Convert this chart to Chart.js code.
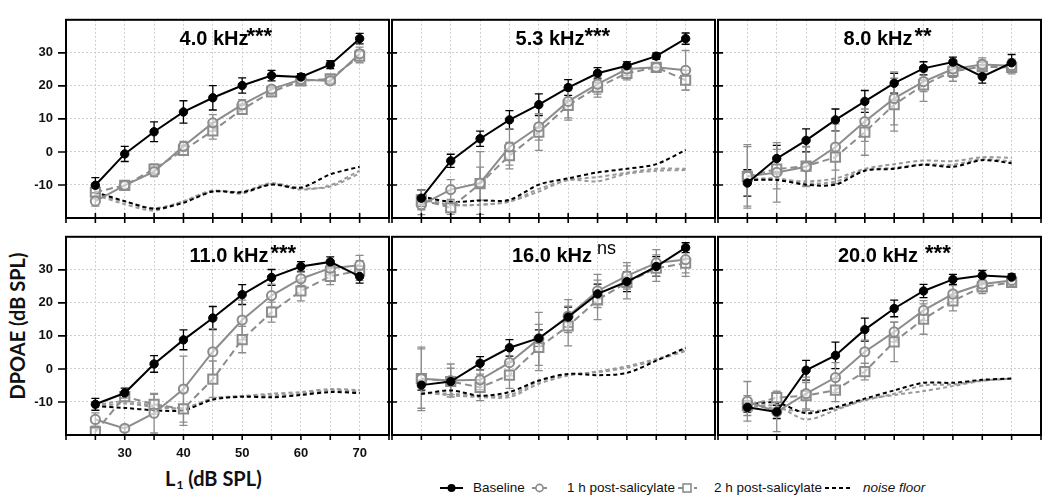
<!DOCTYPE html>
<html>
<head>
<meta charset="utf-8">
<script src="https://cdn.jsdelivr.net/npm/chart.js@4.4.1/dist/chart.umd.min.js"></script>
<style>
  body { margin: 0; background: #fff; width: 1050px; height: 500px; position: relative; overflow: hidden;
         font-family: 'Liberation Sans', Arial, sans-serif; }
  canvas { position: absolute; }
  .ytitle { position: absolute; left: -82px; top: 313px; width: 200px; height: 26px; line-height: 26px;
            text-align: center; transform: rotate(-90deg); font: bold 20px Lato, sans-serif; color: #111; }
  .xtitle { position: absolute; left: 165px; top: 466px; font: bold 20px Lato, sans-serif; color: #111; white-space: nowrap; }
  .xtitle sub { font-size: 12px; vertical-align: -3px; margin-left: 1px; }
  .leg { position: absolute; top: 479px; font-size: 13.5px; color: #111; white-space: nowrap; line-height: 18px; }
  .leg svg { position: absolute; top: 0; }
</style>
</head>
<body>
<div class="ytitle">DPOAE (dB SPL)</div>
<div class="xtitle">L<sub>1</sub> (dB SPL)</div>
<div id="legend"></div>

<script>
// stimulus levels L1 (dB SPL)
const levels = [25, 30, 35, 40, 45, 50, 55, 60, 65, 70];

const panelNames = ['4.0 kHz', '5.3 kHz', '8.0 kHz', '11.0 kHz', '16.0 kHz', '20.0 kHz'];
const significance = ['***', '***', '**', '***', 'ns', '***'];
const yTicks = [-10, 0, 10, 20, 30];
const xTickLabels = [30, 40, 50, 60, 70];

// one row per panel, in the order of panelNames
const baselineMean = [
  [-10.1, -0.6, 6.1, 12.1, 16.4, 20.1, 23.1, 22.7, 26.4, 34.3],
  [-14.0, -2.7, 4.0, 9.7, 14.3, 19.5, 23.8, 26.1, 29.0, 34.3],
  [-9.4, -2.0, 3.5, 9.7, 15.3, 20.8, 25.3, 27.2, 22.8, 27.0],
  [-10.7, -7.3, 1.5, 8.8, 15.4, 22.5, 27.7, 31.0, 32.4, 28.0],
  [-4.9, -3.8, 1.7, 6.4, 9.3, 15.7, 22.7, 26.4, 31.0, 36.7],
  [-11.6, -13.0, -0.4, 4.1, 11.9, 18.3, 23.6, 27.1, 28.3, 27.8]
];
const baselineErr = [
  [2.3, 2.3, 3, 3.4, 3.7, 2.3, 1.6, 1, 1.2, 1.6],
  [2.5, 2, 2.3, 2.8, 3.3, 2.4, 1.7, 1.2, 1, 1.7],
  [4, 4, 3.5, 3.3, 3.3, 3, 2, 1.5, 2, 2.5],
  [1.8, 1.5, 2.5, 3, 3.5, 3, 2.4, 1.5, 1.5, 2],
  [1.5, 1.5, 2, 2.5, 2.5, 3, 3, 3, 3, 1.5],
  [1.5, 2, 3, 4, 3.5, 2.5, 2, 1.5, 1.5, 1]
];
const post1hMean = [
  [-14.9, -10.1, -6.0, 1.7, 8.8, 14.3, 19.0, 21.9, 21.5, 29.7],
  [-16.0, -11.4, -9.4, 1.5, 7.6, 15.3, 20.5, 25.1, 25.6, 24.7],
  [-7.4, -6.2, -4.5, 1.5, 9.2, 16.2, 21.3, 25.1, 26.5, 26.1],
  [-15.3, -18.0, -13.4, -6.1, 5.2, 14.8, 22.2, 27.3, 30.5, 31.4],
  [-3.0, -3.5, -3.3, 1.9, 9.1, 16.0, 23.6, 28.2, 32.1, 33.1],
  [-9.8, -13.0, -7.5, -2.6, 5.2, 11.2, 17.7, 22.7, 25.7, 26.8]
];
const post1hErr = [
  [1.5, 1, 1.5, 1.5, 2.5, 1.5, 1, 1, 1, 2],
  [3, 3, 9.5, 5.5, 4, 5, 3, 2, 1, 6],
  [9.6, 9, 6, 7, 6, 8, 3, 2.5, 2, 2],
  [2, 1, 6, 10, 7, 6, 3.5, 2, 2, 3],
  [9.6, 5, 3, 4, 8, 5, 5, 4, 4, 4],
  [6, 6, 5, 4.5, 3.5, 3, 3, 2.5, 2, 1]
];
const post2hMean = [
  [-12.2, -10.1, -5.2, 0.5, 6.4, 12.9, 18.2, 21.5, 22.1, 29.0],
  [-14.5, -16.9, -9.6, -1.1, 6.0, 14.1, 19.6, 23.8, 25.6, 21.7],
  [-7.4, -5.2, -4.3, -1.6, 6.0, 14.3, 20.3, 24.4, 25.8, 25.6],
  [-19.0, -8.4, -10.7, -12.1, -3.1, 8.9, 17.2, 23.6, 28.0, 29.8],
  [-2.9, -3.8, -5.6, -1.9, 6.5, 13.0, 20.9, 26.2, 30.5, 32.0],
  [-11.1, -8.7, -8.1, -6.4, -0.8, 8.2, 15.1, 20.6, 24.8, 26.2]
];
const post2hErr = [
  [2, 1, 1.5, 1.5, 2.5, 1.5, 1, 1, 1, 2],
  [3, 2, 5, 4, 5.5, 4.5, 3, 2, 1, 3],
  [9, 6, 6, 8, 7, 8, 5, 3, 2, 2],
  [1, 1.5, 3, 5, 5.5, 4, 3, 3, 2.5, 3],
  [9, 4, 4, 4, 7, 6, 6, 5, 4, 4],
  [3, 2, 4, 3.5, 2.5, 6, 4.6, 3, 2, 1]
];
const noiseBaseline = [
  [-12.2, -14.9, -17.2, -15.4, -12.0, -12.2, -9.9, -10.8, -6.8, -4.5],
  [-13.5, -15.1, -14.7, -14.5, -9.9, -8.0, -6.2, -5.1, -3.7, 0.6],
  [-8.5, -8.5, -9.9, -9.9, -5.7, -5.1, -3.9, -4.5, -2.5, -3.4],
  [-11.3, -11.8, -12.5, -12.5, -9.3, -8.4, -8.6, -7.9, -7.0, -7.3],
  [-7.6, -6.5, -8.1, -7.0, -3.5, -1.5, -1.9, -1.2, 2.5, 6.4],
  [-10.7, -10.2, -13.4, -11.6, -9.0, -6.5, -4.2, -4.2, -3.3, -2.9]
];
const noise1h = [
  [-13.0, -15.8, -17.7, -14.9, -11.7, -12.6, -9.7, -11.4, -10.1, -5.7],
  [-14.0, -16.0, -16.0, -15.0, -12.0, -8.5, -8.9, -6.6, -5.7, -5.5],
  [-8.5, -8.3, -8.9, -8.0, -5.1, -3.7, -2.6, -2.8, -1.6, -1.8],
  [-11.0, -9.8, -11.1, -12.1, -8.9, -8.2, -7.5, -7.0, -6.1, -6.4],
  [-7.3, -7.5, -8.2, -7.9, -3.8, -1.7, -1.0, 0.4, 2.7, 5.4],
  [-11.1, -11.3, -15.3, -12.5, -9.3, -7.9, -6.7, -5.2, -3.6, -2.9]
];
const noise2h = [
  [-13.0, -15.0, -17.0, -15.0, -12.0, -12.0, -9.5, -11.0, -10.5, -6.5],
  [-14.5, -16.0, -16.0, -15.0, -11.2, -8.5, -7.6, -6.3, -5.1, -5.1],
  [-8.2, -8.0, -9.5, -9.0, -5.5, -4.8, -3.7, -3.9, -2.2, -2.9],
  [-11.5, -10.5, -11.5, -11.8, -9.0, -8.3, -8.0, -7.5, -6.5, -6.8],
  [-7.0, -8.0, -8.5, -8.5, -4.5, -2.0, -0.8, 0.8, 3.0, 5.7],
  [-11.0, -12.0, -12.8, -12.0, -9.5, -7.5, -5.0, -4.7, -3.5, -3.0]
];

// layout
const PANEL_W = 326, PANEL_H = 217;
const colLeft = [66, 392, 718];
const rowTop = [1, 218];
const ML = 66, MR = 8, MT = 2, MB = 40;
const titleCenter = [148, 158, 160, 163, 160, 160];
const supGap = [-2, 0, 2, 2, 5, 7];

const BLACK = '#000';
const GREY = '#8c8c8c';
const NOISE_GREY = '#9a9a9a';

const pts = arr => levels.map((x, i) => ({ x: x, y: arr[i] }));

const errorBars = {
  id: 'errorBars',
  beforeDatasetsDraw(chart) {
    const { ctx, scales: { x, y } } = chart;
    ctx.save();
    chart.data.datasets.forEach(ds => {
      if (!ds.errors) return;
      ctx.strokeStyle = ds.borderColor;
      ctx.lineWidth = 1.3;
      ctx.beginPath();
      ds.data.forEach((p, i) => {
        const e = ds.errors[i];
        const px = x.getPixelForValue(p.x);
        const y1 = y.getPixelForValue(p.y - e), y2 = y.getPixelForValue(p.y + e);
        ctx.moveTo(px, y1); ctx.lineTo(px, y2);
        ctx.moveTo(px - 4, y1); ctx.lineTo(px + 4, y1);
        ctx.moveTo(px - 4, y2); ctx.lineTo(px + 4, y2);
      });
      ctx.stroke();
    });
    ctx.restore();
  }
};

const frame = {
  id: 'frame',
  afterDraw(chart, args, opts) {
    const { ctx, chartArea: a, scales: { x, y } } = chart;
    ctx.save();
    ctx.strokeStyle = '#000';
    ctx.lineWidth = 2;
    ctx.strokeRect(a.left, a.top, a.right - a.left, a.bottom - a.top);
    ctx.lineWidth = 1.6;
    ctx.beginPath();
    x.ticks.forEach(t => {
      const px = x.getPixelForValue(t.value);
      ctx.moveTo(px, a.bottom - (opts.row === 0 ? 5 : 0));
      ctx.lineTo(px, a.bottom + 5);
    });
    y.ticks.forEach(t => {
      if (t.value <= y.min || t.value >= y.max) return;
      const py = y.getPixelForValue(t.value);
      ctx.moveTo(a.left - (opts.col === 0 ? 8 : 5), py);
      ctx.lineTo(a.left + (opts.col === 0 ? 0 : 5), py);
    });
    ctx.stroke();

    // panel title with significance mark
    const cx = a.left + opts.titleX;
    const base = a.top + 25;
    ctx.fillStyle = '#000';
    ctx.font = 'bold 20px "Liberation Sans", Arial, sans-serif';
    ctx.textAlign = 'center';
    ctx.textBaseline = 'alphabetic';
    ctx.fillText(opts.name, cx, base);
    const w = ctx.measureText(opts.name).width;
    ctx.textAlign = 'left';
    if (opts.sig === 'ns') {
      ctx.font = '18px "Liberation Sans", Arial, sans-serif';
      ctx.fillText(opts.sig, cx + w / 2 + opts.gap, base - 8);
    } else {
      ctx.font = 'bold 22px "Liberation Sans", Arial, sans-serif';
      ctx.fillText(opts.sig, cx + w / 2 + opts.gap, base - 2);
    }
    ctx.restore();
  }
};

panelNames.forEach((name, i) => {
  const row = Math.floor(i / 3), col = i % 3;
  const canvas = document.createElement('canvas');
  canvas.width = ML + PANEL_W + MR;
  canvas.height = MT + PANEL_H + MB;
  canvas.style.left = (colLeft[col] - ML) + 'px';
  canvas.style.top = (rowTop[row] - MT) + 'px';
  document.body.appendChild(canvas);

  const showX = row === 1 && col === 0;
  const showY = col === 0;

  new Chart(canvas, {
    type: 'line',
    data: {
      datasets: [
        { label: 'Baseline', data: pts(baselineMean[i]), errors: baselineErr[i],
          borderColor: BLACK, backgroundColor: BLACK, borderWidth: 2,
          pointStyle: 'circle', pointRadius: 4.2, pointBackgroundColor: BLACK, pointBorderWidth: 1 },
        { label: '1 h post-salicylate', data: pts(post1hMean[i]), errors: post1hErr[i],
          borderColor: GREY, borderWidth: 2,
          pointStyle: 'circle', pointRadius: 4.6, pointBackgroundColor: 'rgba(255,255,255,0.5)', pointBorderWidth: 2 },
        { label: '2 h post-salicylate', data: pts(post2hMean[i]), errors: post2hErr[i],
          borderColor: GREY, borderWidth: 2, borderDash: [7, 4],
          pointStyle: 'rect', pointRadius: 6.5, pointBackgroundColor: 'rgba(255,255,255,0.5)', pointBorderWidth: 2 },
        { label: 'noise floor', data: pts(noiseBaseline[i]), borderColor: BLACK, borderWidth: 2,
          borderDash: [4, 3], pointRadius: 0, tension: 0.3 },
        { label: 'noise 1 h', data: pts(noise1h[i]), borderColor: NOISE_GREY, borderWidth: 2,
          borderDash: [4, 3], pointRadius: 0, tension: 0.3 },
        { label: 'noise 2 h', data: pts(noise2h[i]), borderColor: NOISE_GREY, borderWidth: 2,
          borderDash: [4, 3], pointRadius: 0, tension: 0.3 }
      ]
    },
    options: {
      responsive: false,
      animation: false,
      layout: { padding: { top: MT, right: MR, left: 0, bottom: 0 } },
      plugins: {
        legend: { display: false },
        tooltip: { enabled: false },
        frame: { row: row, col: col, name: name, sig: significance[i], titleX: titleCenter[i], gap: supGap[i] }
      },
      scales: {
        x: {
          type: 'linear', min: 20, max: 75,
          afterFit(s) { s.height = MB; },
          grid: { color: '#cfcfcf', lineWidth: 1, drawTicks: false },
          border: { display: false, dash: [2, 2] },
          ticks: {
            stepSize: 5, padding: 11, maxRotation: 0, autoSkip: false,
            color: '#111', font: { family: '"Liberation Sans", Arial, sans-serif', size: 13, weight: 'bold' },
            callback: v => (showX && xTickLabels.includes(v)) ? String(v) : ''
          }
        },
        y: {
          min: -20, max: 40,
          afterFit(s) { s.width = ML; },
          grid: { color: '#cfcfcf', lineWidth: 1, drawTicks: false },
          border: { display: false, dash: [2, 2] },
          ticks: {
            stepSize: 10, padding: 13,
            color: '#111', font: { family: '"Liberation Sans", Arial, sans-serif', size: 13, weight: 'bold' },
            callback: v => (showY && yTicks.includes(v)) ? String(v) : ''
          }
        }
      }
    },
    plugins: [errorBars, frame]
  });
});

// legend below the panels
const legendItems = [
  { text: 'Baseline', icon: 440, label: 473, svg: '<line x1="0" y1="9" x2="23" y2="9" stroke="#000" stroke-width="2"/><circle cx="11.5" cy="9" r="4" fill="#000"/>' },
  { text: '1 h post-salicylate', icon: 532, label: 567, svg: '<line x1="0" y1="9" x2="15" y2="9" stroke="#8c8c8c" stroke-width="2"/><circle cx="7.5" cy="9" r="3.6" fill="#fff" stroke="#8c8c8c" stroke-width="1.6"/>' },
  { text: '2 h post-salicylate', icon: 678, label: 714, svg: '<line x1="0" y1="9" x2="19" y2="9" stroke="#8c8c8c" stroke-width="2" stroke-dasharray="5 3"/><rect x="5" y="5" width="8" height="8" fill="#fff" stroke="#8c8c8c" stroke-width="1.6"/>' },
  { text: 'noise floor', icon: 825, label: 863, italic: true, svg: '<line x1="0" y1="9" x2="25" y2="9" stroke="#000" stroke-width="2" stroke-dasharray="4 3"/>' }
];
const legend = document.getElementById('legend');
legendItems.forEach(item => {
  const icon = document.createElement('div');
  icon.className = 'leg';
  icon.style.left = item.icon + 'px';
  icon.innerHTML = '<svg width="30" height="18">' + item.svg + '</svg>';
  legend.appendChild(icon);
  const lab = document.createElement('div');
  lab.className = 'leg';
  lab.style.left = item.label + 'px';
  if (item.italic) lab.style.fontStyle = 'italic';
  lab.textContent = item.text;
  legend.appendChild(lab);
});
</script>
</body>
</html>
